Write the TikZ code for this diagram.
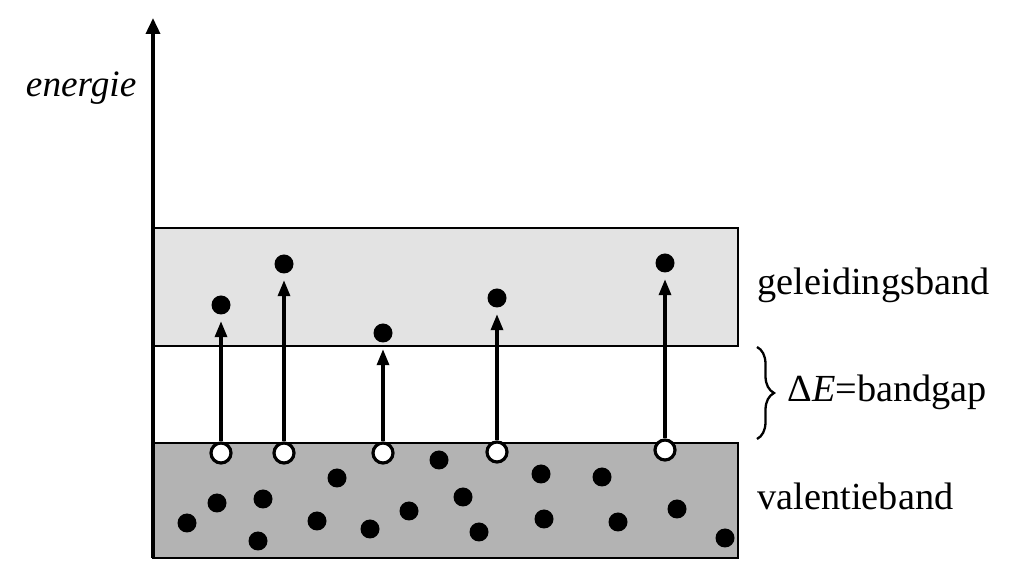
\documentclass[tikz,border=0pt]{standalone}
\usepackage{fontspec}
\setmainfont{Liberation Serif}
\usepackage{tikz}
\usetikzlibrary{arrows.meta,decorations.pathreplacing}
\definecolor{CB}{HTML}{e3e3e3}
\definecolor{VB}{HTML}{b3b3b3}
\tikzset{
  band/.style={draw, line width=0.65pt},
  elec/.style={circle, fill=black, inner sep=0pt, minimum size=1.9mm},
  hole/.style={circle, draw, line width=0.9pt, fill=white, inner sep=0pt, minimum size=2mm},
  jump/.style={line width=0.95pt, -{Triangle[length=1.6mm,width=1.2mm]}, shorten >=0.6mm},
  lbl/.style={font=\fontsize{10.9}{13}\selectfont, inner sep=0pt, anchor=base west}
}

\begin{document}
\begin{tikzpicture}[x=0.1mm, y=-0.1mm]%
\useasboundingbox (0,0) rectangle (1012,583);%
% bands
\draw[band, fill=CB] (153,228) rectangle (738,346);%
\draw[band, fill=VB] (153,443) rectangle (738,558);%
% energy axis
\coordinate (ax0) at (153,558);%
\coordinate (ax1) at (153,18);%
\draw[line width=1pt, -{Triangle[length=1.6mm,width=1.4mm]}] (ax0) -- (ax1);%
\node[lbl, anchor=base east, font=\fontsize{10.6}{13}\selectfont\itshape] (en) at (137,97) {energie};%
% electrons left behind in the valence band
\foreach \x/\y [count=\i] in {187/523, 217/503, 263/499, 258/541, 337/478, 317/521, 370/529, 409/511, 439/460, 463/497, 479/532, 541/474, 544/519, 602/477, 618/522, 677/509, 725/538}
  \node[elec] (v\i) at (\x,\y) {};%
% holes and excited electrons
\foreach \x/\ye/\yh [count=\i] in {221/305/453, 284/264/453, 383/333/453, 497/298/452, 665/263/450} {
  \node[elec] (e\i) at (\x,\ye) {};%
  \node[hole] (h\i) at (\x,\yh) {};%
  \draw[jump] (h\i) -- (e\i);%
}
% labels
\node[lbl] (gb) at (757,295) {geleidingsband};%
\node[lbl] (vb) at (757,510) {valentieband};%
\coordinate (gtop) at (757,347);%
\coordinate (gbot) at (757,439);%
\draw[line width=0.65pt, decorate, decoration={brace, amplitude=1.7mm, aspect=0.5}] (gtop) -- (gbot);%
\node[lbl] (gap) at (787,402) {Δ\textit{E}=bandgap};%
\end{tikzpicture}
\end{document}
